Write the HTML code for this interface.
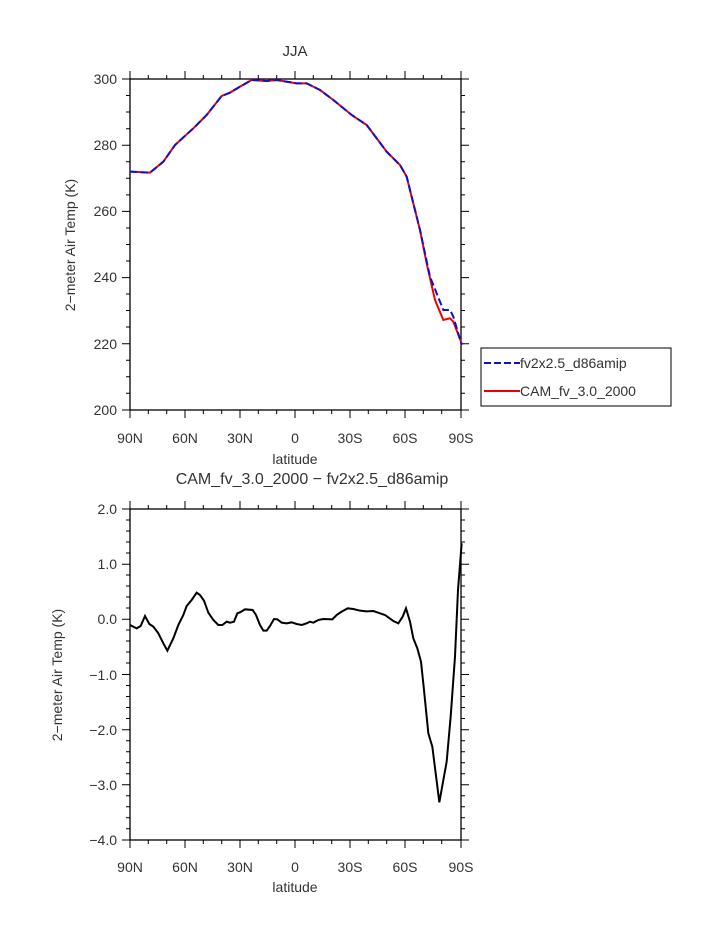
<!DOCTYPE html>
<html><head><meta charset="utf-8"><style>body{margin:0;background:#fff}svg{display:block}text{font-family:"Liberation Sans",sans-serif;fill:#333}</style></head><body>
<svg width="723" height="935" viewBox="0 0 723 935" xmlns="http://www.w3.org/2000/svg">
<defs>
<g id="xt" stroke="#000" stroke-width="1">
<path d="M130,0v-8M185,0v-8M240,0v-8M295,0v-8M350,0v-8M405,0v-8M461,0v-8"/>
<path d="M148.3,0v-4M166.7,0v-4M203.3,0v-4M221.7,0v-4M258.3,0v-4M276.7,0v-4M313.3,0v-4M331.7,0v-4M368.3,0v-4M386.7,0v-4M423.3,0v-4M441.7,0v-4"/>
</g>
</defs>
<text x="295" y="56" font-size="15" text-anchor="middle">JJA</text>
<!-- top plot -->
<rect x="130" y="79" width="331" height="331" fill="none" stroke="#000" stroke-width="1.3"/>
<use href="#xt" transform="translate(0,79)"/>
<use href="#xt" transform="translate(0,410) scale(1,-1)"/>
<g stroke="#000" stroke-width="1">
<path d="M122,79h8M122,145.2h8M122,211.4h8M122,277.6h8M122,343.8h8M122,410h8M461,79h8M461,145.2h8M461,211.4h8M461,277.6h8M461,343.8h8M461,410h8"/>
<path d="M126,95.5h4M126,112h4M126,128.7h4M126,161.7h4M126,178.2h4M126,194.9h4M126,228h4M126,244.5h4M126,261h4M126,294h4M126,310.5h4M126,327h4M126,360.3h4M126,376.8h4M126,393.3h4M461,95.5h4M461,112h4M461,128.7h4M461,161.7h4M461,178.2h4M461,194.9h4M461,228h4M461,244.5h4M461,261h4M461,294h4M461,310.5h4M461,327h4M461,360.3h4M461,376.8h4M461,393.3h4"/>
</g>
<g font-size="14" text-anchor="end">
<text x="117" y="84">300</text><text x="117" y="150">280</text><text x="117" y="216">260</text><text x="117" y="282">240</text><text x="117" y="349">220</text><text x="117" y="415">200</text>
</g>
<g font-size="14" text-anchor="middle">
<text x="130" y="443">90N</text><text x="185" y="443">60N</text><text x="240" y="443">30N</text><text x="295" y="443">0</text><text x="350" y="443">30S</text><text x="405" y="443">60S</text><text x="461" y="443">90S</text>
<text x="295" y="464">latitude</text>
</g>
<text transform="translate(75,245) rotate(-90)" font-size="14" text-anchor="middle">2−meter Air Temp (K)</text>
<g transform="translate(120,70) scale(0.33333)" fill="none" stroke-width="6">
<polyline stroke="#e00" points="30,305 90,308 130,275 165,225 220,175 260,135 305,78 330,68 360,50 395,30 440,33 470,30 530,40 560,40 600,60 640,90 695,135 740,165 800,245 840,285 860,320 880,400 900,480 920,580 945,690 970,750 990,745 1000,755 1025,820"/>
<polyline stroke="#11c" stroke-dasharray="22,10" points="30,305 90,308 130,275 165,225 220,175 260,135 305,78 330,68 360,50 395,30 440,33 470,30 530,40 560,40 600,60 640,90 695,135 740,165 800,245 840,285 860,320 880,400 900,480 930,620 970,720 990,720 1000,740 1025,825"/>
</g>
<!-- legend -->
<rect x="481" y="348" width="190" height="58" fill="#fff" stroke="#000" stroke-width="1"/>
<line x1="484" y1="363" x2="520" y2="363" stroke="#11c" stroke-width="2" stroke-dasharray="7,3"/>
<line x1="484" y1="391" x2="520" y2="391" stroke="#e00" stroke-width="2"/>
<text x="520" y="368" font-size="14">fv2x2.5_d86amip</text>
<text x="520" y="396" font-size="14">CAM_fv_3.0_2000</text>
<!-- bottom plot -->
<text x="312" y="484" font-size="16" text-anchor="middle">CAM_fv_3.0_2000 − fv2x2.5_d86amip</text>
<rect x="130" y="509" width="331" height="331" fill="none" stroke="#000" stroke-width="1.3"/>
<use href="#xt" transform="translate(0,509)"/>
<use href="#xt" transform="translate(0,840) scale(1,-1)"/>
<g stroke="#000" stroke-width="1">
<path d="M122,509h8M122,564.2h8M122,619.3h8M122,674.5h8M122,729.7h8M122,784.8h8M122,840h8M461,509h8M461,564.2h8M461,619.3h8M461,674.5h8M461,729.7h8M461,784.8h8M461,840h8"/>
<path d="M126,520h4M126,531h4M126,542h4M126,553h4M126,575h4M126,586h4M126,597h4M126,608h4M126,630h4M126,641h4M126,652h4M126,663h4M126,685.5h4M126,696.5h4M126,707.5h4M126,718.5h4M126,740.7h4M126,751.7h4M126,762.7h4M126,773.7h4M126,795.8h4M126,806.8h4M126,817.8h4M126,828.8h4M461,520h4M461,531h4M461,542h4M461,553h4M461,575h4M461,586h4M461,597h4M461,608h4M461,630h4M461,641h4M461,652h4M461,663h4M461,685.5h4M461,696.5h4M461,707.5h4M461,718.5h4M461,740.7h4M461,751.7h4M461,762.7h4M461,773.7h4M461,795.8h4M461,806.8h4M461,817.8h4M461,828.8h4"/>
</g>
<g font-size="14" text-anchor="end">
<text x="117" y="514">2.0</text><text x="117" y="569">1.0</text><text x="117" y="624">0.0</text><text x="117" y="680">−1.0</text><text x="117" y="735">−2.0</text><text x="117" y="790">−3.0</text><text x="117" y="845">−4.0</text>
</g>
<g font-size="14" text-anchor="middle">
<text x="130" y="872">90N</text><text x="185" y="872">60N</text><text x="240" y="872">30N</text><text x="295" y="872">0</text><text x="350" y="872">30S</text><text x="405" y="872">60S</text><text x="461" y="872">90S</text>
<text x="295" y="892">latitude</text>
</g>
<text transform="translate(62,675) rotate(-90)" font-size="14" text-anchor="middle">2−meter Air Temp (K)</text>
<g transform="translate(120,500) scale(0.33333)" fill="none" stroke-width="6" stroke="#000">
<polyline points="30,375 50,385 62,378 75,348 88,372 100,380 115,400 130,430 142,452 160,415 175,375 190,345 200,318 215,300 230,278 240,285 252,302 265,338 280,360 295,375 307,375 320,365 330,368 342,365 352,340 360,337 375,328 398,330 408,345 420,375 430,392 440,392 450,378 462,357 472,358 485,368 500,370 515,367 530,372 545,375 560,370 570,365 580,368 595,360 610,357 637,358 650,345 665,335 683,325 700,327 720,332 740,334 760,333 780,340 795,345 820,363 835,370 848,350 858,325 870,365 880,415 892,445 903,485 912,570 925,700 937,740 958,907 980,785 992,650 1005,470 1014,270 1025,130"/>
</g>
</svg>
</body></html>
